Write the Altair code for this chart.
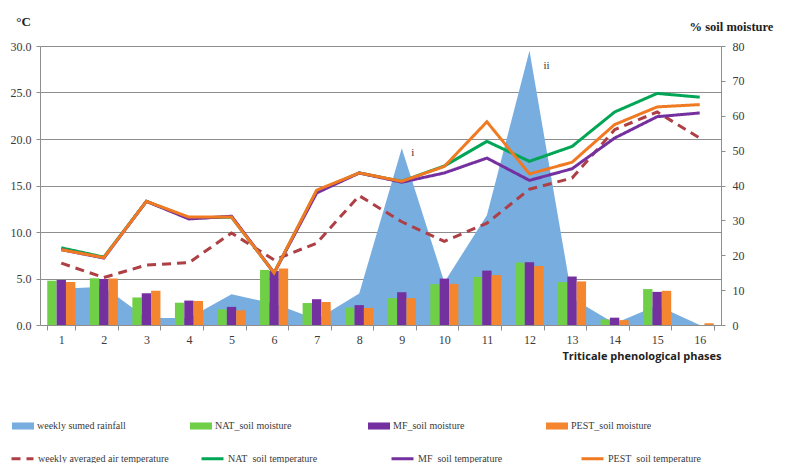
import altair as alt
import pandas as pd

# Triticale phenological phases (x categories)
phases = [str(i) for i in range(1, 17)]

# Weekly summed rainfall, drawn against the primary scale
rainfall = [3.9, 4.1, 0.75, 0.75, 3.3, 2.3, 0.6, 3.4, 19.0, 4.6, 11.8, 29.5, 2.9, 0.15, 2.1, 0.0]

# Soil moisture (%), secondary axis
nat_moisture = [12.7, 13.4, 7.9, 6.4, 4.5, 15.8, 6.3, 5.0, 7.7, 11.7, 13.8, 17.9, 12.3, 1.6, 10.3, 0.0]
mf_moisture = [12.9, 13.2, 9.1, 7.0, 5.2, 15.5, 7.4, 5.7, 9.4, 13.3, 15.6, 18.0, 13.9, 2.1, 9.5, 0.0]
pest_moisture = [12.3, 13.3, 9.8, 6.9, 4.2, 16.2, 6.6, 4.9, 7.7, 11.8, 14.3, 16.9, 12.5, 1.4, 9.8, 0.5]

# Temperatures (°C), primary axis
air_temp = [6.65, 5.1, 6.45, 6.7, 9.9, 7.0, 8.8, 13.9, 11.1, 9.0, 10.95, 14.6, 15.8, 21.0, 22.9, 20.1]
nat_temp = [8.3, 7.3, 13.3, 11.5, 11.6, 5.6, 14.4, 16.35, 15.45, 17.1, 19.75, 17.6, 19.2, 22.9, 24.9, 24.5]
mf_temp = [8.1, 7.2, 13.3, 11.4, 11.7, 5.6, 14.2, 16.35, 15.35, 16.35, 17.95, 15.55, 16.8, 20.1, 22.4, 22.8]
pest_temp = [8.1, 7.25, 13.3, 11.6, 11.6, 5.6, 14.5, 16.35, 15.45, 17.05, 21.85, 16.25, 17.5, 21.55, 23.45, 23.7]

rain_name = "weekly sumed rainfall"
moist_names = ["NAT_soil moisture", "MF_soil moisture", "PEST_soil moisture"]
temp_names = ["weekly averaged air temperature", "NAT_soil temperature",
              "MF_soil temperature", "PEST_soil temperature"]

fill_colors = ["#78ade0", "#6fcf47", "#7530a0", "#f3862f"]
line_colors = ["#ad3f45", "#00a656", "#7530a0", "#f07a22"]

# peak labels on the rainfall area
peak_labels = {"9": "i", "12": "ii"}

rain_df = pd.DataFrame({"phase": phases, "value": rainfall, "series": rain_name})
moist_df = pd.concat(
    [pd.DataFrame({"phase": phases, "value": v, "series": n})
     for n, v in zip(moist_names, [nat_moisture, mf_moisture, pest_moisture])],
    ignore_index=True,
)
temp_df = pd.concat(
    [pd.DataFrame({"phase": phases, "value": v, "line": n})
     for n, v in zip(temp_names, [air_temp, nat_temp, mf_temp, pest_temp])],
    ignore_index=True,
)
label_df = rain_df[rain_df["phase"].isin(list(peak_labels))].copy()
label_df["label"] = label_df["phase"].map(peak_labels)

SERIF = "Liberation Serif"
GRID = "#8e8e8e"
TXT = "#3a3a3a"

x_enc = alt.X(
    "phase:N", sort=phases,
    scale=alt.Scale(paddingInner=0.34, paddingOuter=0.17),
    axis=alt.Axis(
        title="Triticale phenological phases", titleFont="Open Sans", titleFontSize=11,
        titleFontWeight="bold", titleColor="#222", titleAnchor="end", titleAlign="right",
        titleX=681, titleY=31, titleBaseline="middle",
        labelAngle=0, labelFont=SERIF, labelFontSize=12, labelColor=TXT, labelPadding=4,
        domainColor=GRID, tickColor=GRID, tickSize=5, tickBand="extent", grid=False,
    ),
)

left_scale = alt.Scale(domain=[0, 30], nice=False, zero=True)

fill_scale = alt.Scale(domain=[rain_name] + moist_names, range=fill_colors)
fill_legend = alt.Legend(
    title=None, orient="none", legendX=-28, legendY=369, direction="horizontal",
    columns=4, columnPadding=64, gridAlign="all", padding=0,
    symbolType="M-1,-0.32H1V0.32H-1Z", symbolSize=484, symbolStrokeWidth=0, symbolOpacity=1,
    labelFont=SERIF, labelFontSize=10, labelColor=TXT, labelOffset=3,
)
stroke_legend = alt.Legend(
    title=None, orient="none", legendX=-30, legendY=400, direction="horizontal",
    columns=4, columnPadding=26, gridAlign="all", padding=0,
    symbolType="stroke", symbolSize=484, symbolStrokeWidth=3,
    labelFont=SERIF, labelFontSize=10, labelColor=TXT, labelOffset=3,
)

rain = alt.Chart(rain_df).mark_area(opacity=1).encode(
    x=x_enc,
    y=alt.Y(
        "value:Q", scale=left_scale,
        axis=alt.Axis(
            title="°C", titleAngle=0, titleX=-17, titleY=-25, titleAlign="center",
            titleBaseline="middle", titleFont=SERIF, titleFontSize=13, titleFontWeight="bold",
            titleColor="#222",
            values=[0, 5, 10, 15, 20, 25, 30], format=".1f",
            labelFont=SERIF, labelFontSize=12, labelColor=TXT, labelPadding=5,
            domainColor=GRID, tickColor=GRID, tickSize=4,
            grid=True, gridColor=GRID, gridWidth=1.2,
        ),
    ),
    fill=alt.Fill("series:N", scale=fill_scale, legend=fill_legend),
)

bars = alt.Chart(moist_df).mark_bar(opacity=1).encode(
    x=x_enc,
    xOffset=alt.XOffset("series:N", sort=moist_names),
    y=alt.Y(
        "value:Q", scale=alt.Scale(domain=[0, 80], nice=False),
        axis=alt.Axis(
            orient="right", title="% soil moisture", titleAngle=0, titleX=10, titleY=-20,
            titleAlign="center", titleBaseline="middle", titleFont=SERIF, titleFontSize=12.5,
            titleFontWeight="bold", titleColor="#222",
            values=[0, 10, 20, 30, 40, 50, 60, 70, 80],
            labelFont=SERIF, labelFontSize=12, labelColor=TXT, labelPadding=7,
            domainColor=GRID, tickColor=GRID, tickSize=4, grid=False,
        ),
    ),
    fill=alt.Fill("series:N", scale=fill_scale, legend=fill_legend),
)

lines = alt.Chart(temp_df).mark_line(strokeWidth=3).encode(
    x=x_enc,
    y=alt.Y("value:Q", scale=left_scale, axis=None),
    stroke=alt.Stroke("line:N", scale=alt.Scale(domain=temp_names, range=line_colors),
                      legend=stroke_legend),
    strokeDash=alt.StrokeDash("line:N", scale=alt.Scale(domain=temp_names,
                              range=[[9, 6], [1, 0], [1, 0], [1, 0]]), legend=stroke_legend),
    order=alt.Order("phase_num:Q"),
).transform_calculate(phase_num="toNumber(datum.phase)")

label_i = alt.Chart(label_df).transform_filter(alt.datum.label == "i").mark_text(
    dx=11, dy=5, font=SERIF, fontSize=11, color="#333"
).encode(x=x_enc, y=alt.Y("value:Q", scale=left_scale, axis=None), text="label:N")

label_ii = alt.Chart(label_df).transform_filter(alt.datum.label == "ii").mark_text(
    dx=17, dy=15, font=SERIF, fontSize=11, color="#333"
).encode(x=x_enc, y=alt.Y("value:Q", scale=left_scale, axis=None), text="label:N")

chart = alt.layer(rain, bars, lines, label_i, label_ii).resolve_scale(
    y="independent"
).properties(
    width=681, height=279,
    padding={"left": 40, "top": 46, "right": 67, "bottom": 138},
    autosize=alt.AutoSizeParams(type="none"),
    background="white",
).configure_view(stroke=None)

chart.save("out.html", embed_options={"renderer": "svg", "actions": False})
